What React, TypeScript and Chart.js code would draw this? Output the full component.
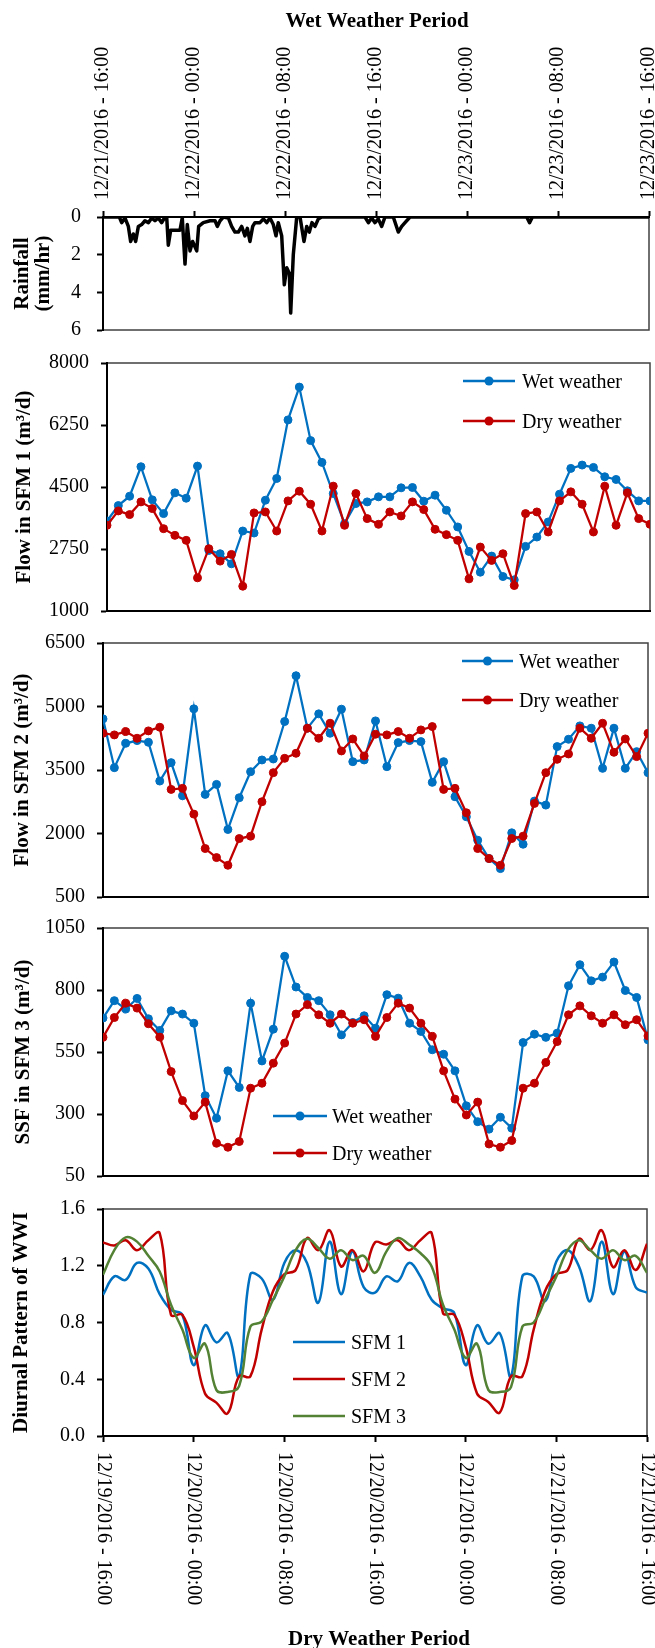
import React, { useEffect, useRef } from "react";
import { Chart, registerables } from "chart.js";

Chart.register(...registerables);

const SERIF = "'Liberation Serif', 'Times New Roman', Times, serif";
Chart.defaults.font.family = SERIF;
Chart.defaults.font.size = 20;
Chart.defaults.color = "#000";

const PAGE_W = 655;
const BLUE = "#0070C0";
const RED = "#C00000";
const GREEN = "#548235";

// Tick captions, one every 8 hours
const wetPeriodTicks = [
  "12/21/2016 - 16:00",
  "12/22/2016 - 00:00",
  "12/22/2016 - 08:00",
  "12/22/2016 - 16:00",
  "12/23/2016 - 00:00",
  "12/23/2016 - 08:00",
  "12/23/2016 - 16:00",
];
const dryPeriodTicks = [
  "12/19/2016 - 16:00",
  "12/20/2016 - 00:00",
  "12/20/2016 - 08:00",
  "12/20/2016 - 16:00",
  "12/21/2016 - 00:00",
  "12/21/2016 - 08:00",
  "12/21/2016 - 16:00",
];

// Rainfall intensity (hours after 12/21/2016 16:00, mm/hr)
const rainHours = [
  0, 1.44, 1.64, 1.93, 2.23, 2.43, 2.67, 2.87, 3.11, 3.4, 3.69, 3.99, 4.28, 4.57, 4.86, 5.16,
  5.45, 5.6, 5.74, 5.95, 6.77, 6.97, 7.21, 7.41, 7.65, 7.88, 8.24, 8.41, 8.82, 9.41, 9.85,
  10.05, 10.29, 10.58, 11.02, 11.31, 11.6, 11.9, 12.19, 12.48, 12.69, 12.92, 13.16, 13.36,
  13.8, 14.1, 14.39, 14.68, 14.97, 15.21, 15.41, 15.71, 15.94, 16.15, 16.38, 16.5, 16.73,
  17.03, 17.32, 17.67, 17.91, 18.14, 18.37, 18.64, 18.93, 19.22, 23.03, 23.33, 23.62, 23.91,
  24.2, 24.5, 24.79, 25.52, 25.96, 26.26, 26.55, 26.99, 37.25, 37.5, 37.75, 48,
];
const rainRates = [
  0, 0, 0.3, 0.05, 0.5, 1.3, 0.9, 1.3, 0.5, 0.4, 0.2, 0.3, 0.05, 0.2, 0.05, 0.3,
  0, 0, 1.5, 0.7, 0.7, 0.05, 2.5, 0.4, 1.8, 1.3, 1.8, 0.5, 0.3, 0.2, 0.2,
  0.5, 0.2, 0, 0.05, 0.5, 0.8, 0.8, 0.5, 1.0, 0.6, 1.3, 0.5, 0.3,
  0.3, 0.1, 0.3, 0.05, 0.4, 1.0, 0.3, 1.0, 3.6, 2.7, 3.0, 5.1, 2.0,
  0, 0, 1.3, 0.5, 0.8, 0.3, 0.5, 0.1, 0, 0, 0.3, 0.05, 0.3,
  0.1, 0.5, 0, 0, 0.8, 0.5, 0.3, 0, 0, 0.3, 0, 0,
];

// Hourly flows (m3/d), wet period vs. dry period
const sfm1Wet = [
  3541, 3976, 4240, 5072, 4137, 3749, 4335, 4184, 5090, 2710, 2616, 2332, 3258, 3201, 4127, 4741,
  6394, 7320, 5809, 5195, 4316, 3466, 4033, 4080, 4222, 4222, 4477, 4486, 4099, 4269, 3844, 3372,
  2682, 2096, 2550, 1973, 1879, 2824, 3088, 3513, 4297, 5025, 5119, 5053, 4789, 4713, 4392, 4108, 4108,
];
const sfm1Dry = [
  3419, 3825, 3721, 4080, 3891, 3324, 3135, 2994, 1936, 2758, 2408, 2597, 1700, 3768, 3796, 3258,
  4108, 4382, 4014, 3258, 4524, 3419, 4316, 3608, 3447, 3796, 3683, 4080, 3863, 3306, 3155, 2994,
  1907, 2805, 2428, 2616, 1719, 3749, 3796, 3230, 4108, 4363, 4014, 3230, 4524, 3419, 4335, 3608, 3447,
];
const sfm2Wet = [
  4708, 3555, 4131, 4195, 4155, 3239, 3674, 2892, 4945, 2924, 3160, 2095, 2845, 3460, 3737, 3760,
  4645, 5726, 4487, 4826, 4368, 4937, 3697, 3737, 4660, 3579, 4147, 4195, 4171, 3208, 3697, 2868,
  2395, 1842, 1408, 1171, 2016, 1747, 2766, 2671, 4053, 4226, 4542, 4487, 3539, 4487, 3539, 3934, 3437,
];
const sfm2Dry = [
  4368, 4329, 4408, 4250, 4424, 4510, 3042, 3066, 2458, 1645, 1431, 1250, 1881, 1937, 2750, 3437,
  3776, 3895, 4487, 4250, 4605, 3950, 4234, 3831, 4345, 4329, 4408, 4250, 4447, 4526, 3042, 3066,
  2490, 1645, 1408, 1250, 1881, 1937, 2711, 3437, 3752, 3879, 4487, 4250, 4605, 3918, 4234, 3816, 4368,
];
const sfm3Wet = [
  687, 757, 723, 766, 684, 637, 716, 703, 666, 374, 283, 474, 407, 747, 514, 642,
  936, 812, 770, 757, 700, 619, 669, 696, 646, 781, 767, 666, 633, 559, 541, 474,
  333, 269, 239, 287, 243, 588, 622, 609, 626, 817, 902, 837, 852, 913, 798, 770, 599,
];
const sfm3Dry = [
  609, 689, 747, 727, 664, 610, 471, 354, 292, 348, 182, 166, 189, 404, 424, 505,
  586, 703, 741, 700, 666, 703, 666, 680, 613, 689, 747, 727, 666, 613, 474, 360,
  296, 348, 179, 166, 193, 404, 424, 508, 592, 700, 736, 696, 666, 700, 660, 680, 615,
];

// Diurnal wastewater-inflow pattern, dry period
const wwiSfm1 = [
  0.995, 1.125, 1.1, 1.22, 1.18, 1.0, 0.89, 0.854, 0.5, 0.78, 0.66, 0.725, 0.42, 1.14, 1.11, 0.96,
  1.22, 1.31, 1.22, 0.94, 1.37, 1.0, 1.3, 1.05, 1.01, 1.125, 1.09, 1.22, 1.125, 0.96, 0.9, 0.866,
  0.5, 0.78, 0.65, 0.725, 0.42, 1.125, 1.125, 0.95, 1.23, 1.31, 1.195, 0.95, 1.37, 1.0, 1.3, 1.05, 1.01,
];
const wwiSfm2 = [
  1.365, 1.343, 1.38, 1.31, 1.38, 1.43, 0.854, 0.854, 0.63, 0.3, 0.235, 0.16, 0.42, 0.42, 0.75, 1.02,
  1.14, 1.17, 1.395, 1.31, 1.45, 1.195, 1.31, 1.16, 1.365, 1.35, 1.38, 1.31, 1.38, 1.43, 0.866, 0.854,
  0.63, 0.3, 0.24, 0.165, 0.42, 0.42, 0.75, 1.02, 1.14, 1.17, 1.39, 1.31, 1.45, 1.19, 1.31, 1.17, 1.355,
];
const wwiSfm3 = [
  1.137, 1.31, 1.4, 1.37, 1.27, 1.16, 0.925, 0.75, 0.55, 0.65, 0.325, 0.31, 0.35, 0.77, 0.807, 0.96,
  1.125, 1.31, 1.39, 1.325, 1.25, 1.31, 1.24, 1.27, 1.15, 1.3, 1.395, 1.35, 1.29, 1.195, 0.925, 0.75,
  0.55, 0.65, 0.325, 0.31, 0.345, 0.77, 0.8, 0.96, 1.125, 1.31, 1.38, 1.31, 1.25, 1.31, 1.24, 1.27, 1.15,
];

// ---------- helpers ----------

const xy = (ys: number[], xs?: number[]) => ys.map((y, i) => ({ x: xs ? xs[i] : i, y }));

const zeroPadding = (s: any) => {
  s.paddingLeft = 0;
  s.paddingRight = 0;
  s.paddingTop = 0;
  s.paddingBottom = 0;
};

function xAxis(position: "top" | "bottom", tickMarks: boolean) {
  return {
    type: "linear",
    position,
    min: 0,
    max: 48,
    ticks: { display: false, stepSize: 8 },
    grid: {
      display: true,
      drawOnChartArea: false,
      drawTicks: tickMarks,
      tickLength: 6,
      tickWidth: 2,
      tickColor: "#000",
    },
    border: { display: true, color: "#000", width: 2 },
    afterFit: (s: any) => {
      s.height = 0;
      zeroPadding(s);
    },
  };
}

function yAxis(o: {
  min: number;
  max: number;
  step: number;
  title: string | string[];
  titlePad: number;
  width: number;
  lineHeight?: number;
  reverse?: boolean;
  decimals?: number;
  labelPad?: number;
}) {
  return {
    type: "linear",
    position: "left",
    min: o.min,
    max: o.max,
    reverse: !!o.reverse,
    ticks: {
      stepSize: o.step,
      padding: o.labelPad ?? 12,
      color: "#000",
      font: { size: 20, family: SERIF },
      callback: (v: any) => (o.decimals ? Number(v).toFixed(o.decimals) : String(Math.round(Number(v)))),
    },
    grid: {
      display: true,
      drawOnChartArea: false,
      drawTicks: true,
      tickLength: 6,
      tickWidth: 2,
      tickColor: "#000",
    },
    border: { display: true, color: "#000", width: 2 },
    title: {
      display: true,
      text: o.title,
      color: "#000",
      font: { size: 21, weight: "bold", family: SERIF, lineHeight: o.lineHeight ?? 1.2 },
      padding: { top: o.titlePad, bottom: 0 },
    },
    afterFit: (s: any) => {
      s.width = o.width;
      zeroPadding(s);
    },
  };
}

function markerSeries(label: string, values: number[], color: string, order: number) {
  return {
    label,
    data: xy(values),
    borderColor: color,
    backgroundColor: color,
    borderWidth: 2.25,
    pointRadius: 4,
    pointBorderWidth: 1,
    pointBackgroundColor: color,
    pointBorderColor: color,
    tension: 0,
    order,
  };
}

function smoothSeries(label: string, values: number[], color: string, order: number) {
  return {
    label,
    data: xy(values),
    borderColor: color,
    backgroundColor: color,
    borderWidth: 2.5,
    pointRadius: 0,
    tension: 0.4,
    order,
  };
}

type LegendEntry = { label: string; color: string; marker: boolean; dy: number };
type Decor = {
  tickLabels?: { labels: string[]; side: "top" | "bottom"; gap: number };
  legend?: { x1: number; x2: number; textX: number; entries: LegendEntry[] };
  captions?: { text: string; x: number; y: number }[];
};

// Frame, rotated period captions, in-plot legend and panel captions
function decor(d: Decor) {
  return {
    id: "decor",
    beforeDraw(chart: any) {
      const { ctx, chartArea: a } = chart;
      ctx.save();
      ctx.strokeStyle = "#404040";
      ctx.lineWidth = 1.5;
      ctx.strokeRect(a.left, a.top, a.right - a.left, a.bottom - a.top);
      ctx.restore();
    },
    afterDraw(chart: any) {
      const { ctx, chartArea: a } = chart;
      const xs = chart.scales.x;
      ctx.save();
      ctx.fillStyle = "#000";
      if (d.tickLabels) {
        const t = d.tickLabels;
        const top = t.side === "top";
        ctx.font = `20px ${SERIF}`;
        ctx.textAlign = "left";
        ctx.textBaseline = "middle";
        xs.ticks.forEach((tick: any, i: number) => {
          const text = t.labels[i];
          if (!text) return;
          ctx.save();
          ctx.translate(xs.getPixelForValue(tick.value), top ? a.top - t.gap : a.bottom + t.gap);
          ctx.rotate(top ? -Math.PI / 2 : Math.PI / 2);
          ctx.fillText(text, 0, 0);
          ctx.restore();
        });
      }
      if (d.legend) {
        const L = d.legend;
        L.entries.forEach((e) => {
          const y = a.top + e.dy;
          ctx.strokeStyle = e.color;
          ctx.lineWidth = 2.5;
          ctx.beginPath();
          ctx.moveTo(L.x1, y);
          ctx.lineTo(L.x2, y);
          ctx.stroke();
          if (e.marker) {
            ctx.fillStyle = e.color;
            ctx.beginPath();
            ctx.arc((L.x1 + L.x2) / 2, y, 4.5, 0, Math.PI * 2);
            ctx.fill();
          }
          ctx.fillStyle = "#000";
          ctx.font = `20px ${SERIF}`;
          ctx.textAlign = "left";
          ctx.textBaseline = "alphabetic";
          ctx.fillText(e.label, L.textX, y + 6.5);
        });
      }
      if (d.captions) {
        ctx.fillStyle = "#000";
        ctx.font = `bold 21px ${SERIF}`;
        ctx.textAlign = "center";
        ctx.textBaseline = "alphabetic";
        d.captions.forEach((c) => ctx.fillText(c.text, c.x, c.y));
      }
      ctx.restore();
    },
  };
}

function baseOptions(padding: { top: number; bottom: number; right: number }, scales: any) {
  return {
    responsive: false,
    animation: false,
    events: [],
    layout: { padding: { left: 0, ...padding } },
    plugins: { legend: { display: false }, tooltip: { enabled: false }, title: { display: false } },
    scales,
  };
}

// ---------- panels ----------

const wetLegend = (dy1: number, dy2: number, x1: number, x2: number, textX: number) => ({
  x1,
  x2,
  textX,
  entries: [
    { label: "Wet weather", color: BLUE, marker: true, dy: dy1 },
    { label: "Dry weather", color: RED, marker: true, dy: dy2 },
  ],
});

const panels = [
  {
    key: "rain",
    top: 0,
    height: 345,
    build: () => ({
      type: "line",
      data: {
        datasets: [
          {
            label: "Rainfall",
            data: xy(rainRates, rainHours),
            borderColor: "#000",
            borderWidth: 3.5,
            borderJoinStyle: "round",
            borderCapStyle: "round",
            pointRadius: 0,
            tension: 0,
          },
        ],
      },
      options: baseOptions(
        { top: 217, bottom: 15, right: 6 },
        {
          x: xAxis("top", true),
          y: yAxis({
            min: 0,
            max: 6,
            step: 2,
            reverse: true,
            title: ["Rainfall", "(mm/hr)"],
            titlePad: 12,
            lineHeight: 1.0,
            width: 103,
            labelPad: 16,
          }),
        }
      ),
      plugins: [
        decor({
          tickLabels: { labels: wetPeriodTicks, side: "top", gap: 17 },
          captions: [{ text: "Wet Weather Period", x: 377, y: 27 }],
        }),
      ],
    }),
  },
  {
    key: "sfm1",
    top: 345,
    height: 282,
    build: () => ({
      type: "line",
      data: {
        datasets: [
          markerSeries("Wet weather", sfm1Wet, BLUE, 2),
          markerSeries("Dry weather", sfm1Dry, RED, 1),
        ],
      },
      options: baseOptions(
        { top: 18, bottom: 16, right: 5 },
        {
          x: xAxis("bottom", false),
          y: yAxis({ min: 1000, max: 8000, step: 1750, title: "Flow in SFM 1 (m³/d)", titlePad: 12.4, width: 107 }),
        }
      ),
      plugins: [decor({ legend: wetLegend(18, 58, 463, 515, 522) })],
    }),
  },
  {
    key: "sfm2",
    top: 627,
    height: 285,
    build: () => ({
      type: "line",
      data: {
        datasets: [
          markerSeries("Wet weather", sfm2Wet, BLUE, 2),
          markerSeries("Dry weather", sfm2Dry, RED, 1),
        ],
      },
      options: baseOptions(
        { top: 16, bottom: 15, right: 7 },
        {
          x: xAxis("bottom", false),
          y: yAxis({ min: 500, max: 6500, step: 1500, title: "Flow in SFM 2 (m³/d)", titlePad: 10.1, width: 103 }),
        }
      ),
      plugins: [decor({ legend: wetLegend(18, 57, 462, 513, 519) })],
    }),
  },
  {
    key: "sfm3",
    top: 912,
    height: 280,
    build: () => ({
      type: "line",
      data: {
        datasets: [
          markerSeries("Wet weather", sfm3Wet, BLUE, 2),
          markerSeries("Dry weather", sfm3Dry, RED, 1),
        ],
      },
      options: baseOptions(
        { top: 16, bottom: 16, right: 7 },
        {
          x: xAxis("bottom", false),
          y: yAxis({ min: 50, max: 1050, step: 250, title: "SSF in SFM 3 (m³/d)", titlePad: 10.7, width: 103 }),
        }
      ),
      plugins: [decor({ legend: wetLegend(188, 225, 273, 327, 332) })],
    }),
  },
  {
    key: "wwi",
    top: 1192,
    height: 456,
    build: () => ({
      type: "line",
      data: {
        datasets: [
          smoothSeries("SFM 1", wwiSfm1, BLUE, 3),
          smoothSeries("SFM 2", wwiSfm2, RED, 2),
          smoothSeries("SFM 3", wwiSfm3, GREEN, 1),
        ],
      },
      options: baseOptions(
        { top: 17, bottom: 212, right: 8 },
        {
          x: xAxis("bottom", true),
          y: yAxis({
            min: 0,
            max: 1.6,
            step: 0.4,
            decimals: 1,
            title: "Diurnal Pattern of WWI",
            titlePad: 9.1,
            width: 103,
          }),
        }
      ),
      plugins: [
        decor({
          tickLabels: { labels: dryPeriodTicks, side: "bottom", gap: 16 },
          legend: {
            x1: 293,
            x2: 345,
            textX: 351,
            entries: [
              { label: "SFM 1", color: BLUE, marker: false, dy: 133 },
              { label: "SFM 2", color: RED, marker: false, dy: 170 },
              { label: "SFM 3", color: GREEN, marker: false, dy: 207 },
            ],
          },
          captions: [{ text: "Dry Weather Period", x: 379, y: 453 }],
        }),
      ],
    }),
  },
];

function ChartCanvas({ top, height, build }: { top: number; height: number; build: () => any }) {
  const ref = useRef<HTMLCanvasElement | null>(null);
  useEffect(() => {
    if (!ref.current) return;
    const chart = new Chart(ref.current, build());
    return () => chart.destroy();
  }, [build]);
  return (
    <canvas
      ref={ref}
      width={PAGE_W}
      height={height}
      style={{ position: "absolute", left: 0, top, width: PAGE_W, height, display: "block" }}
    />
  );
}

export default function App() {
  return (
    <div style={{ position: "absolute", left: 0, top: 0, width: PAGE_W, height: 1648, background: "#fff" }}>
      {panels.map((p) => (
        <ChartCanvas key={p.key} top={p.top} height={p.height} build={p.build} />
      ))}
    </div>
  );
}
